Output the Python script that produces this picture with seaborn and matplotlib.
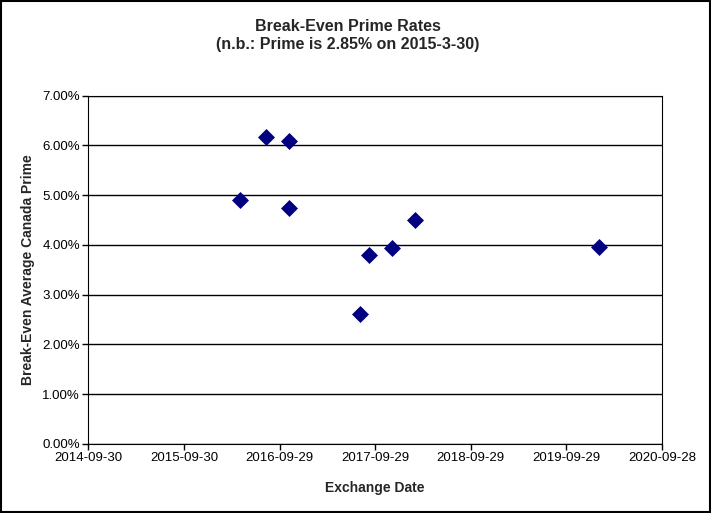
import numpy as np
import pandas as pd
import matplotlib
matplotlib.use('Agg')
import matplotlib.pyplot as plt
import matplotlib.dates as mdates
from matplotlib.ticker import PercentFormatter
import seaborn as sb

# dados
datas = ['2016-05-01', '2016-08-07', '2016-11-03', '2016-11-03', '2017-08-03',
         '2017-09-04', '2017-12-03', '2018-03-01', '2020-02-02']
taxas = [4.90, 6.16, 6.09, 4.74, 2.62, 3.80, 3.94, 4.50, 3.95]
ticks_x = ['2014-09-30', '2015-09-30', '2016-09-29', '2017-09-29',
           '2018-09-29', '2019-09-29', '2020-09-28']

df = pd.DataFrame({'data': pd.to_datetime(datas), 'taxa': taxas})

sb.set_style('white')
plt.rcParams['font.family'] = ['Liberation Sans', 'DejaVu Sans']

fig = plt.figure(figsize=(7.11, 5.13), dpi=100)
ax = fig.add_axes([88.4/711, 1 - 444/513, (662 - 88.4)/711, (444 - 95.5)/513])

sb.scatterplot(data=df, x='data', y='taxa', marker='D', s=75, color='#000080',
               edgecolor='#000080', linewidth=0, ax=ax, zorder=3)

# eixos
ax.set_xlim(pd.Timestamp(ticks_x[0]), pd.Timestamp(ticks_x[-1]))
ax.set_xticks(pd.to_datetime(ticks_x))
ax.xaxis.set_major_formatter(mdates.DateFormatter('%Y-%m-%d'))
ax.set_ylim(0, 7)
ax.set_yticks(np.arange(0, 8, 1))
ax.yaxis.set_major_formatter(PercentFormatter(decimals=2))
ax.grid(axis='y', color='black', linewidth=1)
ax.grid(axis='x', visible=False)
for s in ax.spines.values():
    s.set_color('black')
    s.set_linewidth(0.8)
ax.tick_params(axis='both', direction='out', length=4, width=1, color='black',
               labelsize=9.5, labelcolor='black', pad=2)
ax.tick_params(axis='both', which='both', bottom=True, left=True)

ax.set_xlabel('Exchange Date', fontsize=10, fontweight='bold', labelpad=12)
ax.set_ylabel('Break-Even Average Canada Prime', fontsize=10, fontweight='bold', labelpad=5)

# titulo em duas linhas
fig.text(348/711, 1 - 27/513, 'Break-Even Prime Rates', ha='center', va='center',
         fontsize=11.5, fontweight='bold')
fig.text(348/711, 1 - 45/513, '(n.b.: Prime is 2.85% on 2015-3-30)', ha='center', va='center',
         fontsize=11.5, fontweight='bold')

# borda externa
fig.patches.append(plt.Rectangle((0.001, 0.001), 0.997, 0.997, transform=fig.transFigure,
                                 fill=False, edgecolor='black', linewidth=1.5))

fig.savefig('out.png', dpi=100)
